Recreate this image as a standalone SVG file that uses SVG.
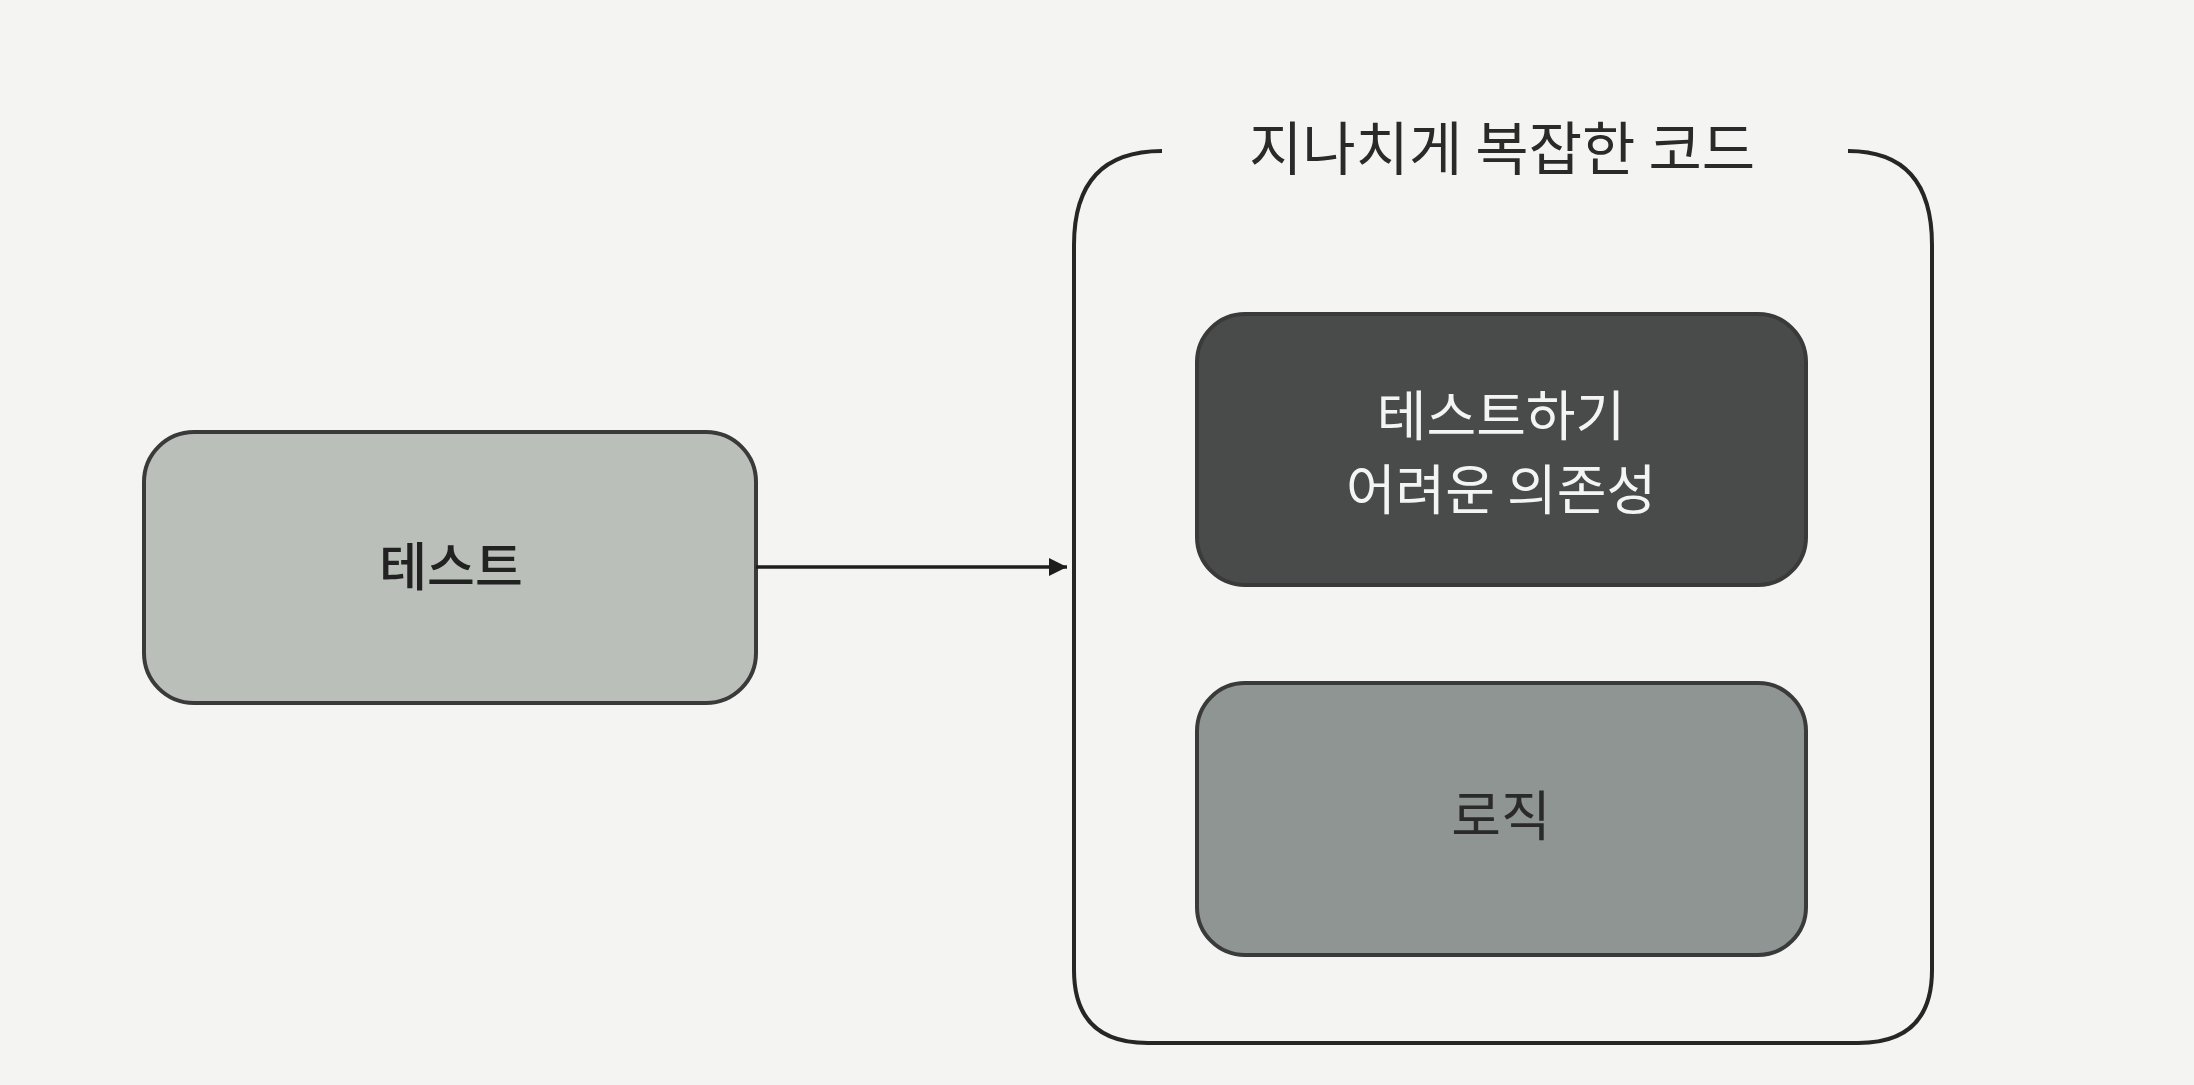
<svg xmlns="http://www.w3.org/2000/svg" width="2194" height="1085" viewBox="0 0 2194 1085">
  <defs>
    <style>
      .lbl { font-family: "Noto Sans CJK KR", "Noto Sans", sans-serif; text-anchor: middle; }
      .box { stroke: #3a3a3a; stroke-width: 4; }
    </style>
    <marker id="arrow" viewBox="0 0 10 10" refX="10" refY="5" markerWidth="20" markerHeight="18" markerUnits="userSpaceOnUse" orient="auto">
      <path d="M0,0 L10,5 L0,10 Z" fill="#1e1e1e"/>
    </marker>
  </defs>
  <rect width="2194" height="1085" fill="#f4f4f2"/>

  <g id="container">
    <path d="M1162,151 Q1074,151 1074,245 L1074,970 Q1074,1043 1148,1043 L1858,1043 Q1932,1043 1932,970 L1932,245 Q1932,151 1848,151" fill="none" stroke="#262626" stroke-width="4"/>
    <text class="lbl" x="1502" y="170" font-size="58" fill="#2a2a2a">지나치게 복잡한 코드</text>
  </g>

  <g id="test">
    <rect class="box" x="144" y="432" width="612" height="271" rx="50" fill="#bbbfba"/>
    <text class="lbl" x="451" y="586" font-size="52" font-weight="500" fill="#222">테스트</text>
  </g>

  <g id="dependency">
    <rect class="box" x="1197" y="314" width="609" height="271" rx="48" fill="#494a4a"/>
    <text class="lbl" x="1501" y="436" font-size="54" fill="#f4f4f4">테스트하기</text>
    <text class="lbl" x="1501" y="510" font-size="54" fill="#f4f4f4">어려운 의존성</text>
  </g>

  <g id="logic">
    <rect class="box" x="1197" y="683" width="609" height="272" rx="48" fill="#8f9592"/>
    <text class="lbl" x="1501" y="836" font-size="54" fill="#2a2a2a">로직</text>
  </g>

  <g id="connectors">
    <line x1="756" y1="567" x2="1067" y2="567" stroke="#1e1e1e" stroke-width="3.5" marker-end="url(#arrow)"/>
  </g>
</svg>
